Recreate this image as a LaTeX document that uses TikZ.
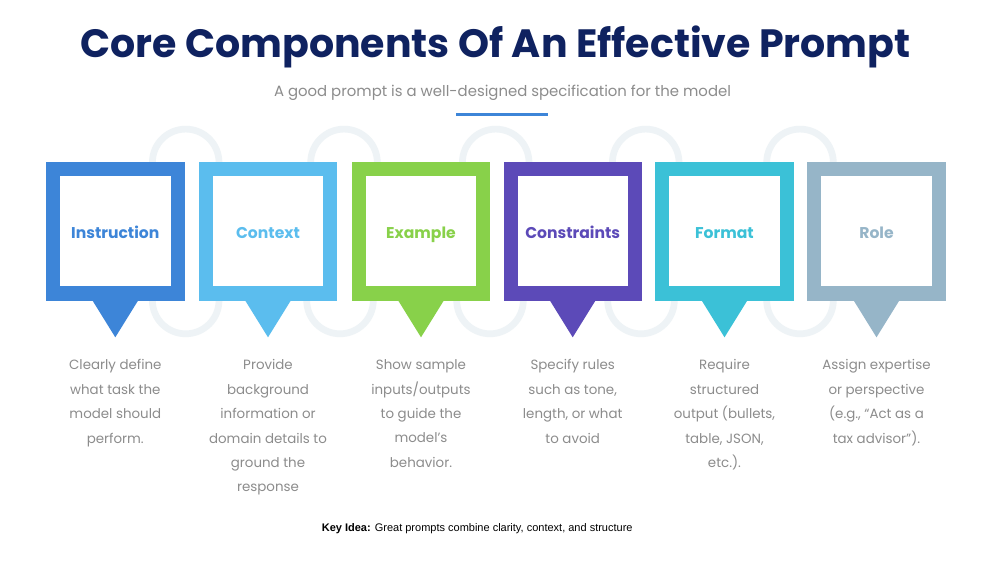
\documentclass[tikz,border=0pt]{standalone}
\usepackage{fontspec}
\setmainfont{Poppins}
\newfontfamily\arialf{Liberation Sans}
\definecolor{cA}{HTML}{3D85D8}
\definecolor{cB}{HTML}{5BBDEE}
\definecolor{cC}{HTML}{88D14A}
\definecolor{cD}{HTML}{5C4AB8}
\definecolor{cE}{HTML}{3BC1D7}
\definecolor{cF}{HTML}{96B5C8}
\definecolor{ringc}{HTML}{EEF3F6}
\definecolor{titlec}{HTML}{0F2260}
\definecolor{bodyc}{HTML}{8C8C8C}
\tikzset{
  ringarc/.style={draw=ringc, line width=6.7pt},
  labeltext/.style={font=\bfseries\fontsize{15.6}{19}\selectfont, inner sep=0pt, anchor=base},
  desctext/.style={font=\fontsize{13.4}{24.4}\selectfont, text=bodyc, align=center, inner sep=0pt, anchor=north},
}
\newcommand{\promptbox}[5]{%
  \fill[#3] ({#2-69.2},162.3) rectangle ({#2+69.2},300.7);
  \fill[white] ({#2-55.2},176.3) rectangle ({#2+55.2},286);
  \fill[#3] ({#2-23},300.2) -- ({#2+23},300.2) -- (#2,337.3) -- cycle;
  \node[labeltext, text=#3] (lab#1) at (#2,238.8) {#4};
  \node[desctext] (desc#1) at (#2,359.5) {#5};
}
\begin{document}
\begin{tikzpicture}[x=1pt,y=-1pt]
\useasboundingbox (0,0) rectangle (1000,563);
\fill[white] (0,0) rectangle (1000,563);
% rings
\foreach \rx in {185.7,344,495.7,645.7,800} {
  \draw[ringarc] (\rx,162.4) ++(33.3,0) arc[start angle=0, end angle=-180, radius=33.3];
}
\foreach \rx in {185.7,340,490,641,800} {
  \draw[ringarc] (\rx,300.5) ++(33.3,0) arc[start angle=0, end angle=180, radius=33.3];
}
% title
\node[font=\bfseries\fontsize{39.5}{46}\selectfont, text=titlec, anchor=base, inner sep=0pt] (title) at (495.5,57.5) {Core Components Of An Effective Prompt};
\node[font=\fontsize{14.9}{18}\selectfont, text=bodyc, anchor=base, inner sep=0pt] (subtitle) at (502.5,96) {A good prompt is a well-designed specification for the model};
\draw[cA, line width=2.7pt] (456,114.7) -- (548,114.7);
% boxes
\promptbox{1}{115.3}{cA}{Instruction}{Clearly define\\what task the\\model should\\perform.}
\promptbox{2}{268}{cB}{Context}{Provide\\background\\information or\\domain details to\\ground the\\response}
\promptbox{3}{421}{cC}{Example}{Show sample\\inputs/outputs\\to guide the\\model’s\\behavior.}
\promptbox{4}{572.7}{cD}{Constraints}{Specify rules\\such as tone,\\length, or what\\to avoid}
\promptbox{5}{724.5}{cE}{Format}{Require\\structured\\output (bullets,\\table, JSON,\\etc.).}
\promptbox{6}{876.5}{cF}{Role}{Assign expertise\\or perspective\\(e.g., “Act as a\\tax advisor”).}
% key idea
\node[font=\arialf\fontsize{11}{13}\selectfont, inner sep=0pt] (key) at (477.2,529) {\textbf{Key Idea:} Great prompts combine clarity, context, and structure};
\end{tikzpicture}
\end{document}
